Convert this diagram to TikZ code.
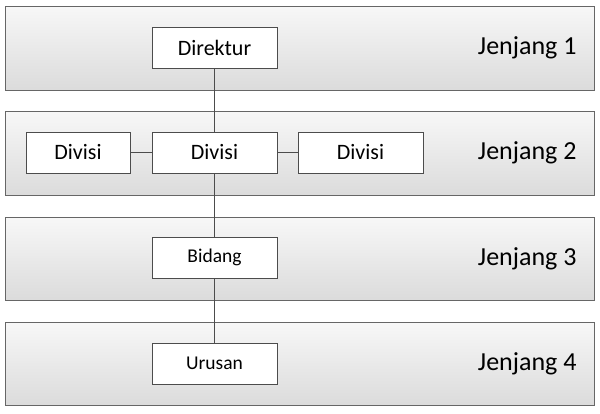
\documentclass[tikz,border=0pt]{standalone}
\usepackage{fontspec}
\setmainfont{Carlito}
\begin{document}
\begin{tikzpicture}[x=1pt,y=-1pt,
  band/.style={draw=black!60,top color=black!3,bottom color=black!14},
  box/.style={draw=black!70,fill=white,minimum height=41pt,inner sep=0pt,font=\fontsize{22}{26}\selectfont},
  sbox/.style={box,font=\fontsize{19.5}{23}\selectfont},
  lbl/.style={font=\fontsize{26}{30}\selectfont,anchor=east},
  conn/.style={draw=black!70}]
\useasboundingbox (0,0) rectangle (600,413);
\foreach \t/\b/\n in {6/90/1,111/195/2,217/300/3,322/405/4}{
  \draw[band] (5,\t) rectangle (594,\b);
  \node[lbl] (j\n) at (580,{(\t+\b)/2}) {Jenjang \n};
}
\node[box,minimum width=125pt] (dir) at (214.5,47.5) {Direktur};
\node[box,minimum width=125pt] (dc) at (214.5,152.5) {Divisi};
\node[box,minimum width=104pt] (dl) at (78,152.5) {Divisi};
\node[box,minimum width=125pt] (dr) at (360.5,152.5) {Divisi};
\node[sbox,minimum width=125pt] (bid) at (214.5,257.5) {Bidang};
\node[sbox,minimum width=125pt] (uru) at (214.5,363.5) {Urusan};
\draw[conn] (dir) -- (dc);
\draw[conn] (dc) -- (bid);
\draw[conn] (bid) -- (uru);
\draw[conn] (dl) -- (dc);
\draw[conn] (dc) -- (dr);
\end{tikzpicture}
\end{document}
